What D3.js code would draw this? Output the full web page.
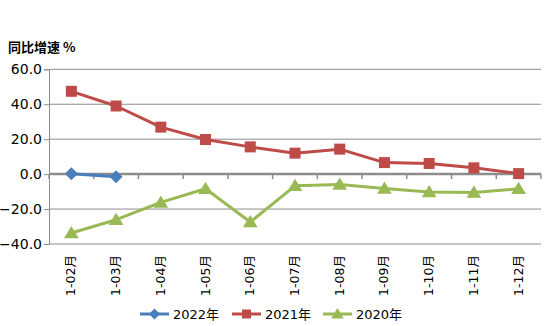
<!DOCTYPE html>
<html><head><meta charset="utf-8">
<script src="https://cdn.jsdelivr.net/npm/d3@7"></script>
<style>body{margin:0;background:#fff;font-family:"DejaVu Sans","Noto Sans CJK SC",sans-serif}</style>
</head><body><svg id="c" width="554" height="326"></svg>
<script>
const categories = ["1-02月","1-03月","1-04月","1-05月","1-06月","1-07月","1-08月","1-09月","1-10月","1-11月","1-12月"];
const s2022 = [0.2, -1.5];
const s2021 = [47.4, 39.0, 26.9, 19.8, 15.6, 12.0, 14.3, 6.6, 6.1, 3.6, 0.3];
const s2020 = [-33.7, -26.1, -16.2, -8.4, -27.4, -6.7, -5.9, -8.2, -10.3, -10.5, -8.4];
const seriesNames = ["2022年","2021年","2020年"];
const yTicks = [60, 40, 20, 0, -20, -40];

const series = [
  {name: seriesNames[0], values: s2022, color: "#4A7EBB", shape: "diamond"},
  {name: seriesNames[1], values: s2021, color: "#BE4B48", shape: "square"},
  {name: seriesNames[2], values: s2020, color: "#98B954", shape: "triangle"}
];

const svg = d3.select("#c");
const L = 49, R = 541, T = 69.3, B = 244;
const x = d3.scaleBand().domain(categories).range([L, R]);
const y = d3.scaleLinear().domain([-40, 60]).range([B, T]);

// gridlines
svg.append("g").selectAll("line").data(yTicks.filter(d => d !== 0)).join("line")
  .attr("x1", L).attr("x2", R).attr("y1", d => y(d)).attr("y2", d => y(d))
  .attr("stroke", "#8c8c8c").attr("stroke-width", 1);

// y axis
const ya = svg.append("g").attr("transform", `translate(${L},0)`)
  .call(d3.axisLeft(y).tickValues(yTicks).tickFormat(d3.format(".1f")).tickSize(5).tickPadding(2));
ya.select(".domain").attr("stroke", "#8c8c8c");
ya.selectAll(".tick line").attr("stroke", "#8c8c8c");
ya.selectAll("text").attr("font-size", 14).attr("fill", "#000").attr("font-family", "DejaVu Sans");

// x axis at zero
const boundaries = categories.map(c => x(c)).concat([R]);
svg.append("g").selectAll("line").data(boundaries).join("line")
  .attr("x1", d => d).attr("x2", d => d).attr("y1", y(0)).attr("y2", y(0) + 5)
  .attr("stroke", "#8c8c8c").attr("stroke-width", 1.5);
svg.append("line").attr("x1", L).attr("x2", R).attr("y1", y(0)).attr("y2", y(0))
  .attr("stroke", "#8c8c8c").attr("stroke-width", 2.5);

// x labels at bottom
svg.append("g").selectAll("text").data(categories).join("text")
  .attr("transform", d => `translate(${x(d) + x.bandwidth()/2 + 4},${B + 11}) rotate(-90)`)
  .attr("text-anchor", "end").attr("font-size", 12.5).attr("font-family", "DejaVu Sans, Noto Sans CJK SC")
  .attr("fill", "#000").text(d => d);

function marker(g, shape, color, size) {
  if (shape === "square") {
    g.append("rect").attr("x", -size).attr("y", -size).attr("width", 2*size).attr("height", 2*size).attr("fill", color);
  } else if (shape === "diamond") {
    const s = size + 1;
    g.append("path").attr("d", `M0,${-s}L${s},0L0,${s}L${-s},0Z`).attr("fill", color);
  } else {
    const s = size + 1.5;
    g.append("path").attr("d", `M0,${-s}L${s*1.05},${s*0.75}L${-s*1.05},${s*0.75}Z`).attr("fill", color);
  }
}

const line = d3.line().x((d, i) => x(categories[i]) + x.bandwidth()/2).y(d => y(d));
series.slice().reverse().forEach(s => {
  svg.append("path").datum(s.values).attr("d", line).attr("fill", "none")
    .attr("stroke", s.color).attr("stroke-width", 3).attr("stroke-linejoin", "round");
  s.values.forEach((v, i) => {
    const g = svg.append("g").attr("transform", `translate(${x(categories[i]) + x.bandwidth()/2},${y(v)})`);
    marker(g, s.shape, s.color, 5.5);
  });
});

// title
svg.append("text").attr("x", 8).attr("y", 52).attr("font-size", 13).attr("font-weight", "bold")
  .attr("font-family", "Noto Sans CJK SC, DejaVu Sans").text("同比增速 %");

// legend
const legX = [140, 232, 323];
series.forEach((s, i) => {
  const g = svg.append("g").attr("transform", `translate(${legX[i]},314)`);
  g.append("line").attr("x1", 0).attr("x2", 29).attr("stroke", s.color).attr("stroke-width", 3);
  const m = g.append("g").attr("transform", "translate(14.5,0)");
  marker(m, s.shape, s.color, 4.5);
  g.append("text").attr("x", 33).attr("y", 5).attr("font-size", 13).attr("font-family", "DejaVu Sans, Noto Sans CJK SC")
    .text(s.name);
});
</script></body></html>
